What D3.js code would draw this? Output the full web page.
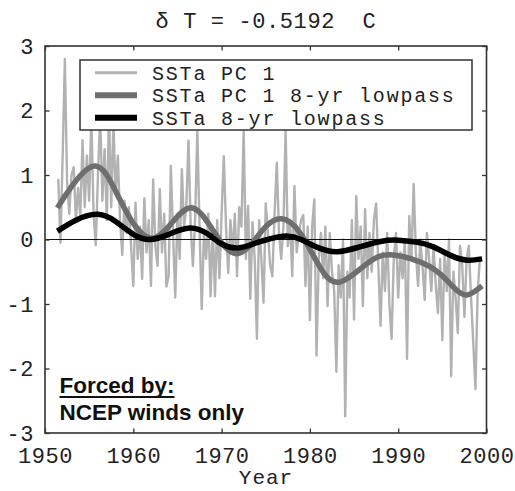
<!DOCTYPE html>
<html><head><meta charset="utf-8">
<script src="https://cdn.jsdelivr.net/npm/d3@7/dist/d3.min.js"></script>
<style>body{margin:0;background:#fff}svg{display:block}</style>
</head><body><svg id="c" width="515" height="491"></svg>
<script>
// ---------- data ----------
const titleText = "\u03B4 T = -0.5192  C";
const xLabel = "Year";
const xTicks = [1950, 1960, 1970, 1980, 1990, 2000];
const yTicks = [-3, -2, -1, 0, 1, 2, 3];
const legendLabels = ["SSTa PC 1", "SSTa PC 1 8-yr lowpass", "SSTa 8-yr lowpass"];
const noteLines = ["Forced by:", "NCEP winds only"];

// SSTa PC 1, quarterly samples starting 1951.5
const pcStart = 1951.5;
const pcStep = 0.25;
const pcValues = [
  0.94, -0.05,
  1.3, 2.8, 0.9, 0.4,
  1.0, 1.12, 0.3, 0.8,
  0.35, 1.54, 0.5, 1.3,
  0.6, 1.9, 0.4, -0.09,
  1.0, 1.95, 0.6, 1.4,
  0.3, 2.0, 0.5, 1.8,
  0.7, 1.3, 0.3, -0.24,
  0.6, 0.1, 0.5, -0.1,
  -0.72, 0.57, -0.3, 0.2,
  -0.61, 0.64, -0.2, 0.3,
  -0.72, 0.93, -0.1, -0.41,
  0.78, -0.2, 0.4, -0.73,
  -0.57, 1.14, 0.1, -0.9,
  0.4, -0.3, 1.09, 0.2,
  0.5, 1.53, 0.2, -0.41,
  0.3, 1.68, 0.2, -1.08,
  0.1, -0.3, 0.4, -0.88,
  0.2, -0.88, 0.3, -0.6,
  0.4, 1.29, 0.2, -0.52,
  0.3, -0.2, 0.4, -0.57,
  0.5, 0.2, 1.68, -0.3,
  0.52, -0.92, 0.27, -0.3,
  -1.54, 0.3, -0.3, -0.98,
  0.56, 0.1, -0.4, -0.57,
  0.4, 1.19, 0.1, -0.3,
  0.2, 1.68, -0.1, 0.3,
  -0.57, 0.83, -0.2, 0.1,
  0.3, 0.38, -0.72, 0.2,
  -1.25, 0.2, 0.62, -1.8,
  -0.3, 0.1, -0.6, 0.2,
  -1.03, 0.1, -0.5, -0.8,
  -2.05, -0.4, -0.9, 0.0,
  -2.74, -0.5, -0.9, 0.3,
  -1.24, 0.67, -0.3, 0.2,
  -1.03, 0.47, -0.6, 0.1,
  -0.5, 0.3, 0.56, -0.4,
  -1.34, -0.2, -0.8, 0.1,
  -1.0, -1.54, -0.3, 0.1,
  -0.9, -0.2, -0.6, 0.0,
  -1.85, 0.36, -0.3, 0.86,
  -0.2, -0.72, 0.0, -0.4,
  -0.94, 0.1, -0.3, -0.8,
  -0.1, -0.7, -1.14, -0.3,
  -1.56, -0.2, -0.8, 0.0,
  -2.12, -0.5, -0.9, -1.45,
  -0.1, -0.4, -1.2, -0.3,
  -0.1, -0.9, -1.6, -2.32,
  -0.8, -0.3, -0.3
];

// SSTa PC 1 8-yr lowpass
const pcLowYears = [1951.4, 1953, 1955.7, 1958, 1960, 1962, 1964, 1966.4, 1968.5, 1970, 1971.7, 1973.5, 1975, 1976.8, 1978.9, 1981.1, 1983.4, 1986.5, 1989.4, 1993.6, 1996.2, 1997.8, 1999.5];
const pcLowValues = [0.49, 0.82, 1.14, 0.75, 0.25, 0.02, 0.2, 0.49, 0.25, -0.05, -0.22, -0.05, 0.2, 0.32, 0.1, -0.42, -0.66, -0.37, -0.24, -0.42, -0.73, -0.86, -0.72];

// SSTa 8-yr lowpass
const sstLowYears = [1951.4, 1953.5, 1955.9, 1958, 1960, 1961.9, 1964, 1966.4, 1968.5, 1970, 1971.9, 1974, 1977, 1979, 1981, 1983.1, 1985.5, 1988, 1990, 1992, 1993.9, 1996, 1997.8, 1999.5];
const sstLowValues = [0.13, 0.3, 0.39, 0.28, 0.08, 0.0, 0.08, 0.18, 0.08, -0.07, -0.13, -0.05, 0.05, 0.0, -0.13, -0.19, -0.12, -0.03, -0.01, -0.04, -0.11, -0.25, -0.32, -0.3];

// ---------- drawing ----------
const svg = d3.select("#c");
const L = 45, R = 486.5, T = 46, B = 433;
const x = d3.scaleLinear().domain([1950, 2000]).range([L, R]);
const y = d3.scaleLinear().domain([-3, 3]).range([B, T]);
const mono = "'Liberation Mono','Courier New',monospace";
const sans = "'Liberation Sans',Arial,sans-serif";

const pcData = pcValues.map((v, i) => [pcStart + i * pcStep, v]);
const pcLow = pcLowYears.map((t, i) => [t, pcLowValues[i]]);
const sstLow = sstLowYears.map((t, i) => [t, sstLowValues[i]]);

const lineLin = d3.line().x(d => x(d[0])).y(d => y(d[1]));
const lineSmooth = d3.line().x(d => x(d[0])).y(d => y(d[1])).curve(d3.curveNatural);

// title
svg.append("text").attr("x", 266).attr("y", 28).attr("text-anchor", "middle")
  .attr("font-family", mono).attr("font-size", 22).attr("letter-spacing", 0.6).attr("fill", "#222")
  .attr("xml:space", "preserve").style("white-space", "pre").text(titleText);

// noisy series
svg.append("path").datum(pcData).attr("d", lineLin)
  .attr("fill", "none").attr("stroke", "#b2b2b2").attr("stroke-width", 2.4).attr("stroke-linejoin", "round");

// zero line
svg.append("line").attr("x1", L).attr("x2", R).attr("y1", y(0)).attr("y2", y(0))
  .attr("stroke", "#111").attr("stroke-width", 1.2);

// lowpass lines
svg.append("path").datum(pcLow).attr("d", lineSmooth)
  .attr("fill", "none").attr("stroke", "#6e6e6e").attr("stroke-width", 5.5).attr("stroke-linecap", "butt");
svg.append("path").datum(sstLow).attr("d", lineSmooth)
  .attr("fill", "none").attr("stroke", "#000").attr("stroke-width", 5.5).attr("stroke-linecap", "butt");

// axes (inward ticks on all four sides)
const tickLen = 4.5;
const xb = svg.append("g").attr("transform", `translate(0,${B})`)
  .call(d3.axisBottom(x).tickValues(xTicks).tickSize(-tickLen).tickPadding(12).tickFormat(d3.format("d")));
const xt = svg.append("g").attr("transform", `translate(0,${T})`)
  .call(d3.axisTop(x).tickValues(xTicks).tickSize(-tickLen).tickFormat(""));
const yl = svg.append("g").attr("transform", `translate(${L},0)`)
  .call(d3.axisLeft(y).tickValues(yTicks).tickSize(-tickLen).tickPadding(11).tickFormat(d => d < 0 ? "-" + Math.abs(d) : String(d)));
const yr = svg.append("g").attr("transform", `translate(${R},0)`)
  .call(d3.axisRight(y).tickValues(yTicks).tickSize(-tickLen).tickFormat(""));
[xb, xt, yl, yr].forEach(g => {
  g.select(".domain").remove();
  g.selectAll(".tick line").attr("stroke", "#333").attr("stroke-width", 1.3);
  g.selectAll("text").attr("font-family", mono).attr("font-size", 22).attr("letter-spacing", 0.5).attr("fill", "#222");
});
xb.selectAll("text").attr("dy", "0.71em").attr("y", 14);

// frame
svg.append("rect").attr("x", L).attr("y", T).attr("width", R - L).attr("height", B - T)
  .attr("fill", "none").attr("stroke", "#333").attr("stroke-width", 1.6);

// x label
svg.append("text").attr("x", 266).attr("y", 484).attr("text-anchor", "middle")
  .attr("font-family", mono).attr("font-size", 21).attr("letter-spacing", 1).attr("fill", "#222").text(xLabel);

// legend
const lg = svg.append("g");
lg.append("rect").attr("x", 80).attr("y", 60).attr("width", 392).attr("height", 70)
  .attr("fill", "#fff").attr("stroke", "#333").attr("stroke-width", 1.5);
const legStyles = [
  {stroke: "#b2b2b2", w: 3},
  {stroke: "#6e6e6e", w: 6},
  {stroke: "#000", w: 6}
];
const rowY = d3.scalePoint().domain(legendLabels).range([72.7, 117.7]);
legendLabels.forEach((lab, i) => {
  const yy = rowY(lab);
  lg.append("line").attr("x1", 95).attr("x2", 137).attr("y1", yy).attr("y2", yy)
    .attr("stroke", legStyles[i].stroke).attr("stroke-width", legStyles[i].w);
  lg.append("text").attr("x", 152).attr("y", yy + 7)
    .attr("font-family", mono).attr("font-size", 20).attr("letter-spacing", 1.8).attr("fill", "#222").text(lab);
});

// note
const n1 = svg.append("text").attr("x", 59.5).attr("y", 393)
  .attr("font-family", sans).attr("font-weight", "bold").attr("font-size", 22.5).attr("fill", "#111")
  .text(noteLines[0]);
const bb = n1.node().getBBox();
svg.append("line").attr("x1", bb.x).attr("x2", bb.x + bb.width).attr("y1", 397).attr("y2", 397)
  .attr("stroke", "#111").attr("stroke-width", 2);
svg.append("text").attr("x", 59.5).attr("y", 420)
  .attr("font-family", sans).attr("font-weight", "bold").attr("font-size", 22.5).attr("fill", "#111")
  .text(noteLines[1]);
</script>
</body></html>
